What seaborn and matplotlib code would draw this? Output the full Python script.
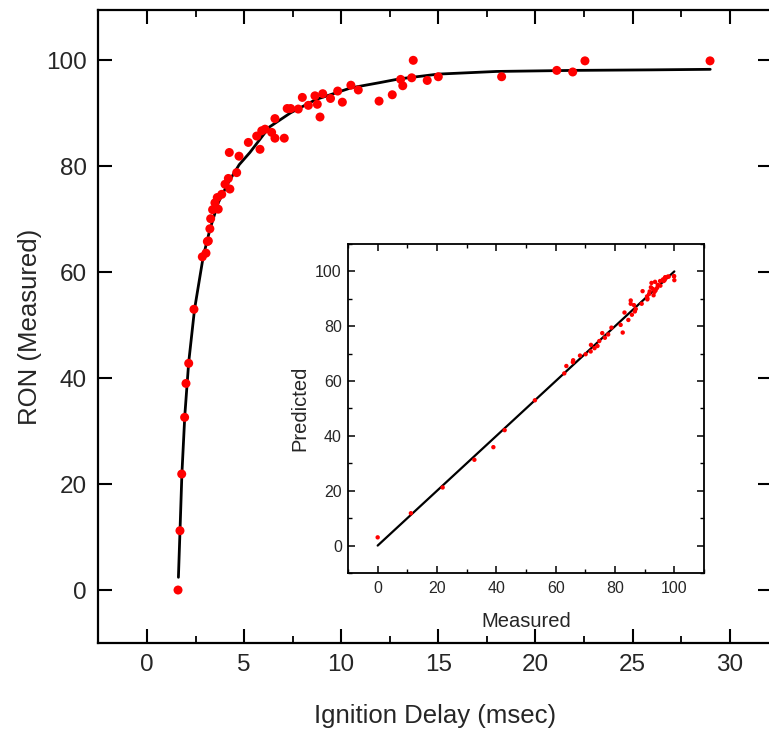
import matplotlib
matplotlib.use("Agg")
import matplotlib.pyplot as plt
import seaborn as sns
import pandas as pd
from matplotlib.ticker import MultipleLocator

sns.set_theme(style="ticks")
plt.rcParams['font.family'] = ['Liberation Sans', 'DejaVu Sans']

# Main scatter: ignition delay (msec) vs RON (measured)
delay = [1.6, 1.7, 1.79, 1.94, 2.01, 2.15, 2.42, 2.85, 3.04, 3.11, 3.16, 3.24, 3.28,
         3.38, 3.50, 3.62, 3.67, 3.85, 4.02, 4.19, 4.24, 4.27, 4.62, 4.74, 5.22, 5.65,
         5.82, 5.91, 6.08, 6.42, 6.59, 6.59, 7.07, 7.22, 7.4, 7.79, 8.0, 8.31, 8.65,
         8.77, 8.91, 9.05, 9.45, 9.82, 10.06, 10.5, 10.88, 11.95, 12.63, 13.06, 13.17,
         13.63, 13.71, 14.43, 15.0, 18.26, 21.1, 21.92, 22.55, 28.99]
ron = [0.0, 11.2, 21.9, 32.6, 39.0, 42.8, 53.0, 62.9, 63.6, 65.8, 65.9, 68.2, 70.1,
       71.8, 73.1, 74.1, 71.9, 74.7, 76.6, 77.7, 82.6, 75.7, 78.8, 81.9, 84.5, 85.7,
       83.2, 86.7, 87.0, 86.4, 85.3, 89.0, 85.3, 90.9, 90.9, 90.8, 93.0, 91.5, 93.3,
       91.7, 89.3, 93.7, 92.8, 94.2, 92.1, 95.3, 94.4, 92.3, 93.5, 96.4, 95.2,
       96.7, 100.0, 96.2, 96.9, 96.9, 98.1, 97.8, 99.9, 99.9]

# Fitted curve
fit_x = [1.62, 1.7, 1.8, 1.95, 2.15, 2.45, 2.9, 3.25, 3.67, 4.2, 4.75, 5.3, 5.8, 6.3,
         7.4, 8.7, 10.5, 12.0, 13.0, 15.0, 18.0, 22.0, 26.0, 29.0]
fit_y = [2.4, 11.0, 22.0, 33.0, 43.0, 53.0, 63.0, 68.2, 73.1, 77.0, 80.3, 82.6, 85.0,
         87.4, 90.1, 92.6, 94.8, 95.8, 96.5, 97.4, 97.9, 98.1, 98.2, 98.3]

# Inset: measured vs predicted
measured = [0.0, 11.2, 21.9, 32.6, 39.0, 42.8, 53.0, 62.9, 63.6, 65.8, 65.9, 68.2, 70.1,
            71.8, 73.1, 74.1, 71.9, 74.7, 76.6, 77.7, 82.6, 75.7, 78.8, 81.9, 84.5, 85.7,
            83.2, 86.7, 87.0, 86.4, 85.3, 89.0, 85.3, 90.9, 90.9, 90.8, 93.0, 91.5, 93.3,
            91.7, 89.3, 93.7, 92.8, 94.2, 92.1, 95.3, 94.4, 92.3, 93.5, 96.4, 95.2,
            96.7, 100.0, 96.2, 96.9, 96.9, 98.1, 97.8, 99.9, 99.9]
predicted = [3.0, 11.8, 21.2, 31.3, 35.9, 42.1, 53.0, 62.8, 65.5, 66.9, 67.6, 69.3, 69.8,
             70.8, 72.0, 72.8, 73.2, 74.6, 75.8, 77.0, 77.7, 77.5, 79.5, 80.5, 82.3, 84.2,
             85.0, 85.4, 86.3, 87.7, 88.2, 88.2, 89.4, 89.8, 90.2, 90.9, 91.3, 91.8, 92.5,
             92.7, 92.8, 93.1, 93.6, 94.0, 94.2, 94.8, 95.1, 95.8, 96.2, 96.5, 96.5,
             96.8, 96.8, 97.1, 97.4, 97.9, 98.1, 98.1, 98.2, 98.3]
ident = [0, 100]

main_df = pd.DataFrame({"delay": delay, "ron": ron})
fit_df = pd.DataFrame({"x": fit_x, "y": fit_y})
inset_df = pd.DataFrame({"measured": measured, "predicted": predicted})
line_df = pd.DataFrame({"x": ident, "y": ident})

txt = "#262626"
fig = plt.figure(figsize=(7.69, 7.30), dpi=100)
ax = fig.add_axes([98/769, 87/730, (772 - 98)/769, (643 - 10)/730])

sns.lineplot(data=fit_df, x="x", y="y", ax=ax, color="black", lw=2.0,
             sort=False, estimator=None, zorder=2)
sns.scatterplot(data=main_df, x="delay", y="ron", ax=ax, color="#ff0000", s=42,
                edgecolor="none", zorder=3)
ax.set_xlim(-2.52, 32.18)
ax.set_ylim(-10, 109.5)
ax.xaxis.set_major_locator(MultipleLocator(5))
ax.xaxis.set_minor_locator(MultipleLocator(2.5))
ax.yaxis.set_major_locator(MultipleLocator(20))
ax.tick_params(which="both", direction="in", top=True, right=True, colors="black",
               labelcolor=txt, labelsize=17.5)
ax.tick_params(which="major", length=10, width=1.5)
ax.tick_params(axis="x", which="major", pad=8)
ax.tick_params(axis="y", which="major", pad=8)
ax.tick_params(which="minor", length=5, width=1.3)
for sp in ax.spines.values():
    sp.set_linewidth(1.6)
    sp.set_color("black")
ax.set_xlabel("Ignition Delay (msec)", fontsize=18.5, color=txt, labelpad=20)
ax.set_ylabel("RON (Measured)", fontsize=18.5, color=txt, labelpad=3)

# Inset
ax2 = fig.add_axes([348/769, (730 - 573)/730, (704 - 348)/769, (573 - 244)/730])
sns.lineplot(data=line_df, x="x", y="y", ax=ax2, color="black", lw=1.6,
             estimator=None, zorder=2)
sns.scatterplot(data=inset_df, x="measured", y="predicted", ax=ax2, color="#ff0000",
                s=10, edgecolor="none", zorder=3)
ax2.set_xlim(-10, 110)
ax2.set_ylim(-10, 110)
ax2.xaxis.set_major_locator(MultipleLocator(20))
ax2.xaxis.set_minor_locator(MultipleLocator(10))
ax2.yaxis.set_major_locator(MultipleLocator(20))
ax2.yaxis.set_minor_locator(MultipleLocator(10))
ax2.tick_params(which="both", direction="in", top=True, right=True, colors="black",
                labelcolor=txt, labelsize=11.5)
ax2.tick_params(which="major", length=5, width=1.1)
ax2.tick_params(axis="x", which="major", pad=6)
ax2.tick_params(axis="y", which="major", pad=4.5)
ax2.tick_params(which="minor", length=3, width=1.0)
for sp in ax2.spines.values():
    sp.set_linewidth(1.3)
    sp.set_color("black")
ax2.set_xlabel("Measured", fontsize=14.5, color=txt, labelpad=11)
ax2.set_ylabel("Predicted", fontsize=14.5, color=txt, labelpad=4)

fig.savefig("out.png", dpi=100)
